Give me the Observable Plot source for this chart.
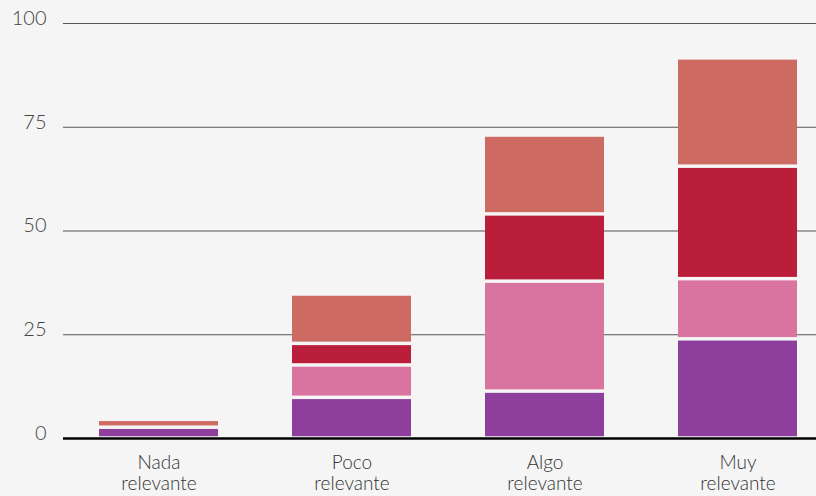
<!DOCTYPE html>
<html>
<head>
<meta charset="utf-8">
<script src="https://cdn.jsdelivr.net/npm/d3@7"></script>
<script src="https://cdn.jsdelivr.net/npm/@observablehq/plot@0.6"></script>
<style>
  html, body { margin: 0; padding: 0; background: #f5f5f5; }
  #chart svg { display: block; }
</style>
</head>
<body>
<div id="chart"></div>
<script>
const categories = ["Nada relevante", "Poco relevante", "Algo relevante", "Muy relevante"];
const series = ["Serie 1", "Serie 2", "Serie 3", "Serie 4"];
const serie1 = [2.6, 9.8, 11.3, 23.9];
const serie2 = [0, 7.8, 26.5, 14.5];
const serie3 = [0, 5.2, 16.2, 27.1];
const serie4 = [1.9, 11.9, 19.0, 26.1];
const yTicks = [0, 25, 50, 75, 100];
const colors = ["#8e3f9e", "#d9739f", "#bb1e3a", "#cd6a62"];

const allSeries = [serie1, serie2, serie3, serie4];
const data = [];
allSeries.forEach((vals, si) => {
  vals.forEach((v, ci) => data.push({category: categories[ci], series: series[si], value: v}));
});

const chart = Plot.plot({
  width: 816,
  height: 496,
  marginLeft: 63,
  marginRight: 0,
  marginTop: 23,
  marginBottom: 58,
  style: {background: "#f5f5f5", fontFamily: "Lato, Roboto, 'Liberation Sans', sans-serif", fontWeight: 300, color: "#333"},
  x: {domain: categories, paddingInner: 0.384, paddingOuter: 0.14, align: 0.65, label: null},
  y: {domain: [0, 100], label: null},
  color: {domain: series, range: colors},
  marks: [
    Plot.ruleY(yTicks.filter(d => d > 0), {stroke: "#555", strokeWidth: 1.2}),
    Plot.barY(data, {
      filter: d => d.value > 0,
      x: "category", y: "value", fill: "series",
      insetTop: 1.75, insetBottom: 1.75
    }),
    Plot.ruleY([0], {stroke: "#000", strokeWidth: 2.5}),
    Plot.axisY({ticks: yTicks, tickSize: 0, tickPadding: 17, dy: -5, fontSize: 20, fill: "#444", label: null}),
    Plot.axisX({tickSize: 0, tickPadding: 16, fontSize: 19, lineHeight: 1.08, fill: "#333",
      tickFormat: d => d.replace(" ", "\n"), label: null})
  ]
});
document.getElementById("chart").appendChild(chart);
</script>
</body>
</html>
